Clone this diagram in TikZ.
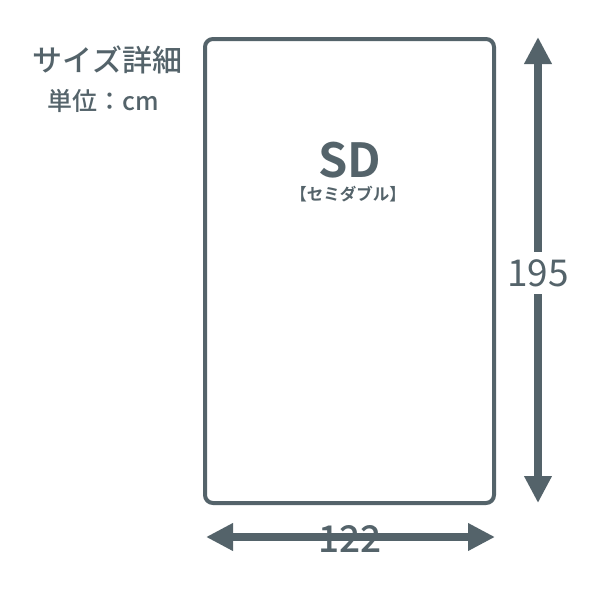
\documentclass[tikz,border=0pt]{standalone}
\usepackage{fontspec}
\setmainfont{Noto Sans CJK JP}[BoldFont={Noto Sans CJK JP Bold}]
\newfontfamily\medfont{Noto Sans CJK JP Medium}
\usetikzlibrary{arrows.meta,shadows}
\definecolor{slate}{RGB}{84,99,106}
\tikzset{
  dimarrow/.style={draw=slate, line width=8pt,
    {Triangle[length=27pt,width=26pt]}-{Triangle[length=27pt,width=26pt]}},
  dimlabel/.style={text=slate, font=\fontsize{37}{40}\selectfont, inner sep=0pt},
  plain/.style={text=slate, inner sep=0pt}
}
\begin{document}
\begin{tikzpicture}[x=1pt,y=-1pt]
\useasboundingbox (0,0) rectangle (600,600);
\node[draw=slate, fill=white, line width=4pt, rounded corners=8pt,
      minimum width=289pt, minimum height=464pt, inner sep=0pt,
      drop shadow={opacity=0.12, shadow xshift=0pt, shadow yshift=-2pt}] (bed) at (349.5,271) {};
\node[plain, font=\medfont\fontsize{30}{32}\selectfont] (title) at (107.5,60) {サイズ詳細};
\node[plain, font=\medfont\fontsize{25}{28}\selectfont] (unit) at (103,101) {単位：cm};
\node[plain, font=\bfseries\fontsize{47}{50}\selectfont] (sd) at (350,160) {SD};
\node[plain, font=\bfseries\fontsize{16.5}{18}\selectfont] (sdsub) at (348,194) {【セミダブル】};
\coordinate (vt) at (538,37);
\coordinate (vb) at (538,503);
\coordinate (hl) at (206,537);
\coordinate (hr) at (495,537);
\draw[dimarrow] (vt) -- (vb);
\draw[dimarrow] (hl) -- (hr);
\node[dimlabel, fill=white, inner xsep=2pt, inner ysep=7pt] (h) at (538,273) {195};
\node[dimlabel, font=\medfont\fontsize{37}{40}\selectfont] (w) at (350,539) {122};
\end{tikzpicture}
\end{document}
